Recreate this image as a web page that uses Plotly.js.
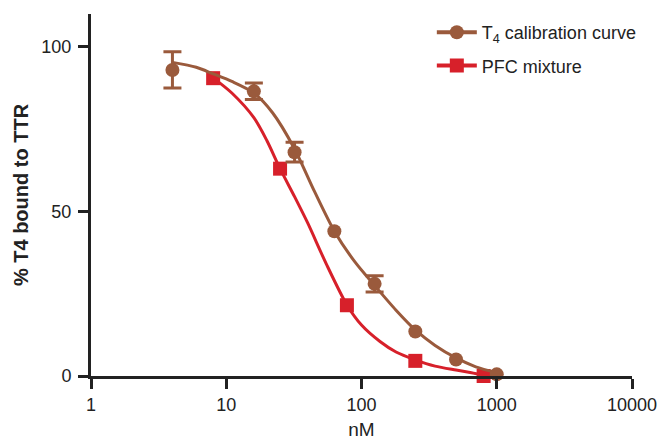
<!DOCTYPE html>
<html>
<head>
<meta charset="utf-8">
<script src="https://cdn.plot.ly/plotly-3.0.1.min.js"></script>
<style>html,body{margin:0;padding:0;background:#fff;}#chart{width:658px;height:441px;}</style>
</head>
<body>
<div id="chart"></div>
<script>
// Measured points
var t4Conc = [4, 16, 32, 63, 125, 250, 500, 1000];
var t4Bound = [93, 86.5, 68, 44, 28, 13.5, 5, 0.5];
var t4Err = [5.5, 2.5, 3, NaN, 2.5, NaN, NaN, NaN];
var pfcConc = [8, 25, 78, 250, 800];
var pfcBound = [90.5, 63, 21.5, 4.6, 0];
// Fitted curves
var t4FitConc = [4, 6, 8, 11, 16, 22, 32, 45, 63, 90, 125, 180, 250, 350, 500, 700, 1000];
var t4FitBound = [95.3, 93.8, 91.8, 89.5, 86, 80, 69, 56, 44, 34.5, 27.5, 20, 14, 9.3, 5.5, 2.8, 1];
var pfcFitConc = [8, 11, 16, 20, 25, 32, 40, 55, 78, 100, 137, 180, 250, 350, 500, 650, 800];
var pfcFitBound = [90.6, 86, 78.5, 71.5, 63, 54.5, 46.5, 34, 21.6, 15.5, 10.5, 7.3, 4.9, 3, 1.8, 1, 0.3];
// Axis ticks
var xTicks = [1, 10, 100, 1000, 10000];
var xTickText = ['1', '10', '100', '1000', '10000'];
var yTicks = [0, 50, 100];

var brown = '#9a5a3c';
var red = '#d7202a';
var ink = '#222222';
var font = 'Liberation Sans, Arial, Helvetica, sans-serif';

var traces = [
  {x: pfcFitConc, y: pfcFitBound, mode: 'lines', line: {color: red, width: 3, shape: 'spline', smoothing: 0.8}, showlegend: false, hoverinfo: 'skip'},
  {x: pfcConc, y: pfcBound, mode: 'markers', marker: {symbol: 'square', size: 14, color: red}, showlegend: false, cliponaxis: false},
  {x: t4FitConc, y: t4FitBound, mode: 'lines', line: {color: brown, width: 3, shape: 'spline', smoothing: 0.8}, showlegend: false, hoverinfo: 'skip'},
  {x: t4Conc, y: t4Bound, mode: 'markers', marker: {symbol: 'circle', size: 14, color: brown},
   error_y: {type: 'data', array: t4Err, visible: true, color: brown, thickness: 3, width: 9},
   showlegend: false, cliponaxis: false},
  {x: [null], y: [null], mode: 'lines+markers', name: 'T<sub>4</sub> calibration curve', legendgroup: 'a',
   line: {color: brown, width: 4}, marker: {symbol: 'circle', size: 14, color: brown}},
  {x: [null], y: [null], mode: 'lines+markers', name: 'PFC mixture', legendgroup: 'b',
   line: {color: red, width: 4}, marker: {symbol: 'square', size: 14, color: red}}
];

var layout = {
  width: 658, height: 441,
  margin: {l: 91, r: 26, t: 14, b: 65},
  paper_bgcolor: '#ffffff', plot_bgcolor: '#ffffff',
  font: {family: font, size: 18, color: ink},
  showlegend: true,
  legend: {x: 0.63, y: 1.0, xanchor: 'left', yanchor: 'top', bgcolor: 'rgba(0,0,0,0)', itemwidth: 40,
           font: {family: font, size: 18, color: ink}, traceorder: 'grouped', tracegroupgap: 7},
  xaxis: {
    type: 'log', range: [0, 4], tickvals: xTicks, ticktext: xTickText,
    showgrid: false, zeroline: false, showline: true, linecolor: ink, linewidth: 3,
    ticks: 'outside', ticklen: 10, tickwidth: 3, tickcolor: ink,
    tickfont: {family: font, size: 18, color: ink},
    title: {text: 'nM', font: {family: font, size: 19, color: ink}, standoff: 10}
  },
  yaxis: {
    range: [0, 110], tickvals: yTicks,
    showgrid: false, zeroline: false, showline: true, linecolor: ink, linewidth: 3,
    ticks: 'outside', ticklen: 10, tickwidth: 3, tickcolor: ink, ticklabelstandoff: 3,
    tickfont: {family: font, size: 18, color: ink},
    title: {text: '<b>% T4 bound to TTR</b>', font: {family: font, size: 20, color: ink}, standoff: 8}
  }
};

Plotly.newPlot('chart', traces, layout, {displayModeBar: false, staticPlot: true});
</script>
</body>
</html>
